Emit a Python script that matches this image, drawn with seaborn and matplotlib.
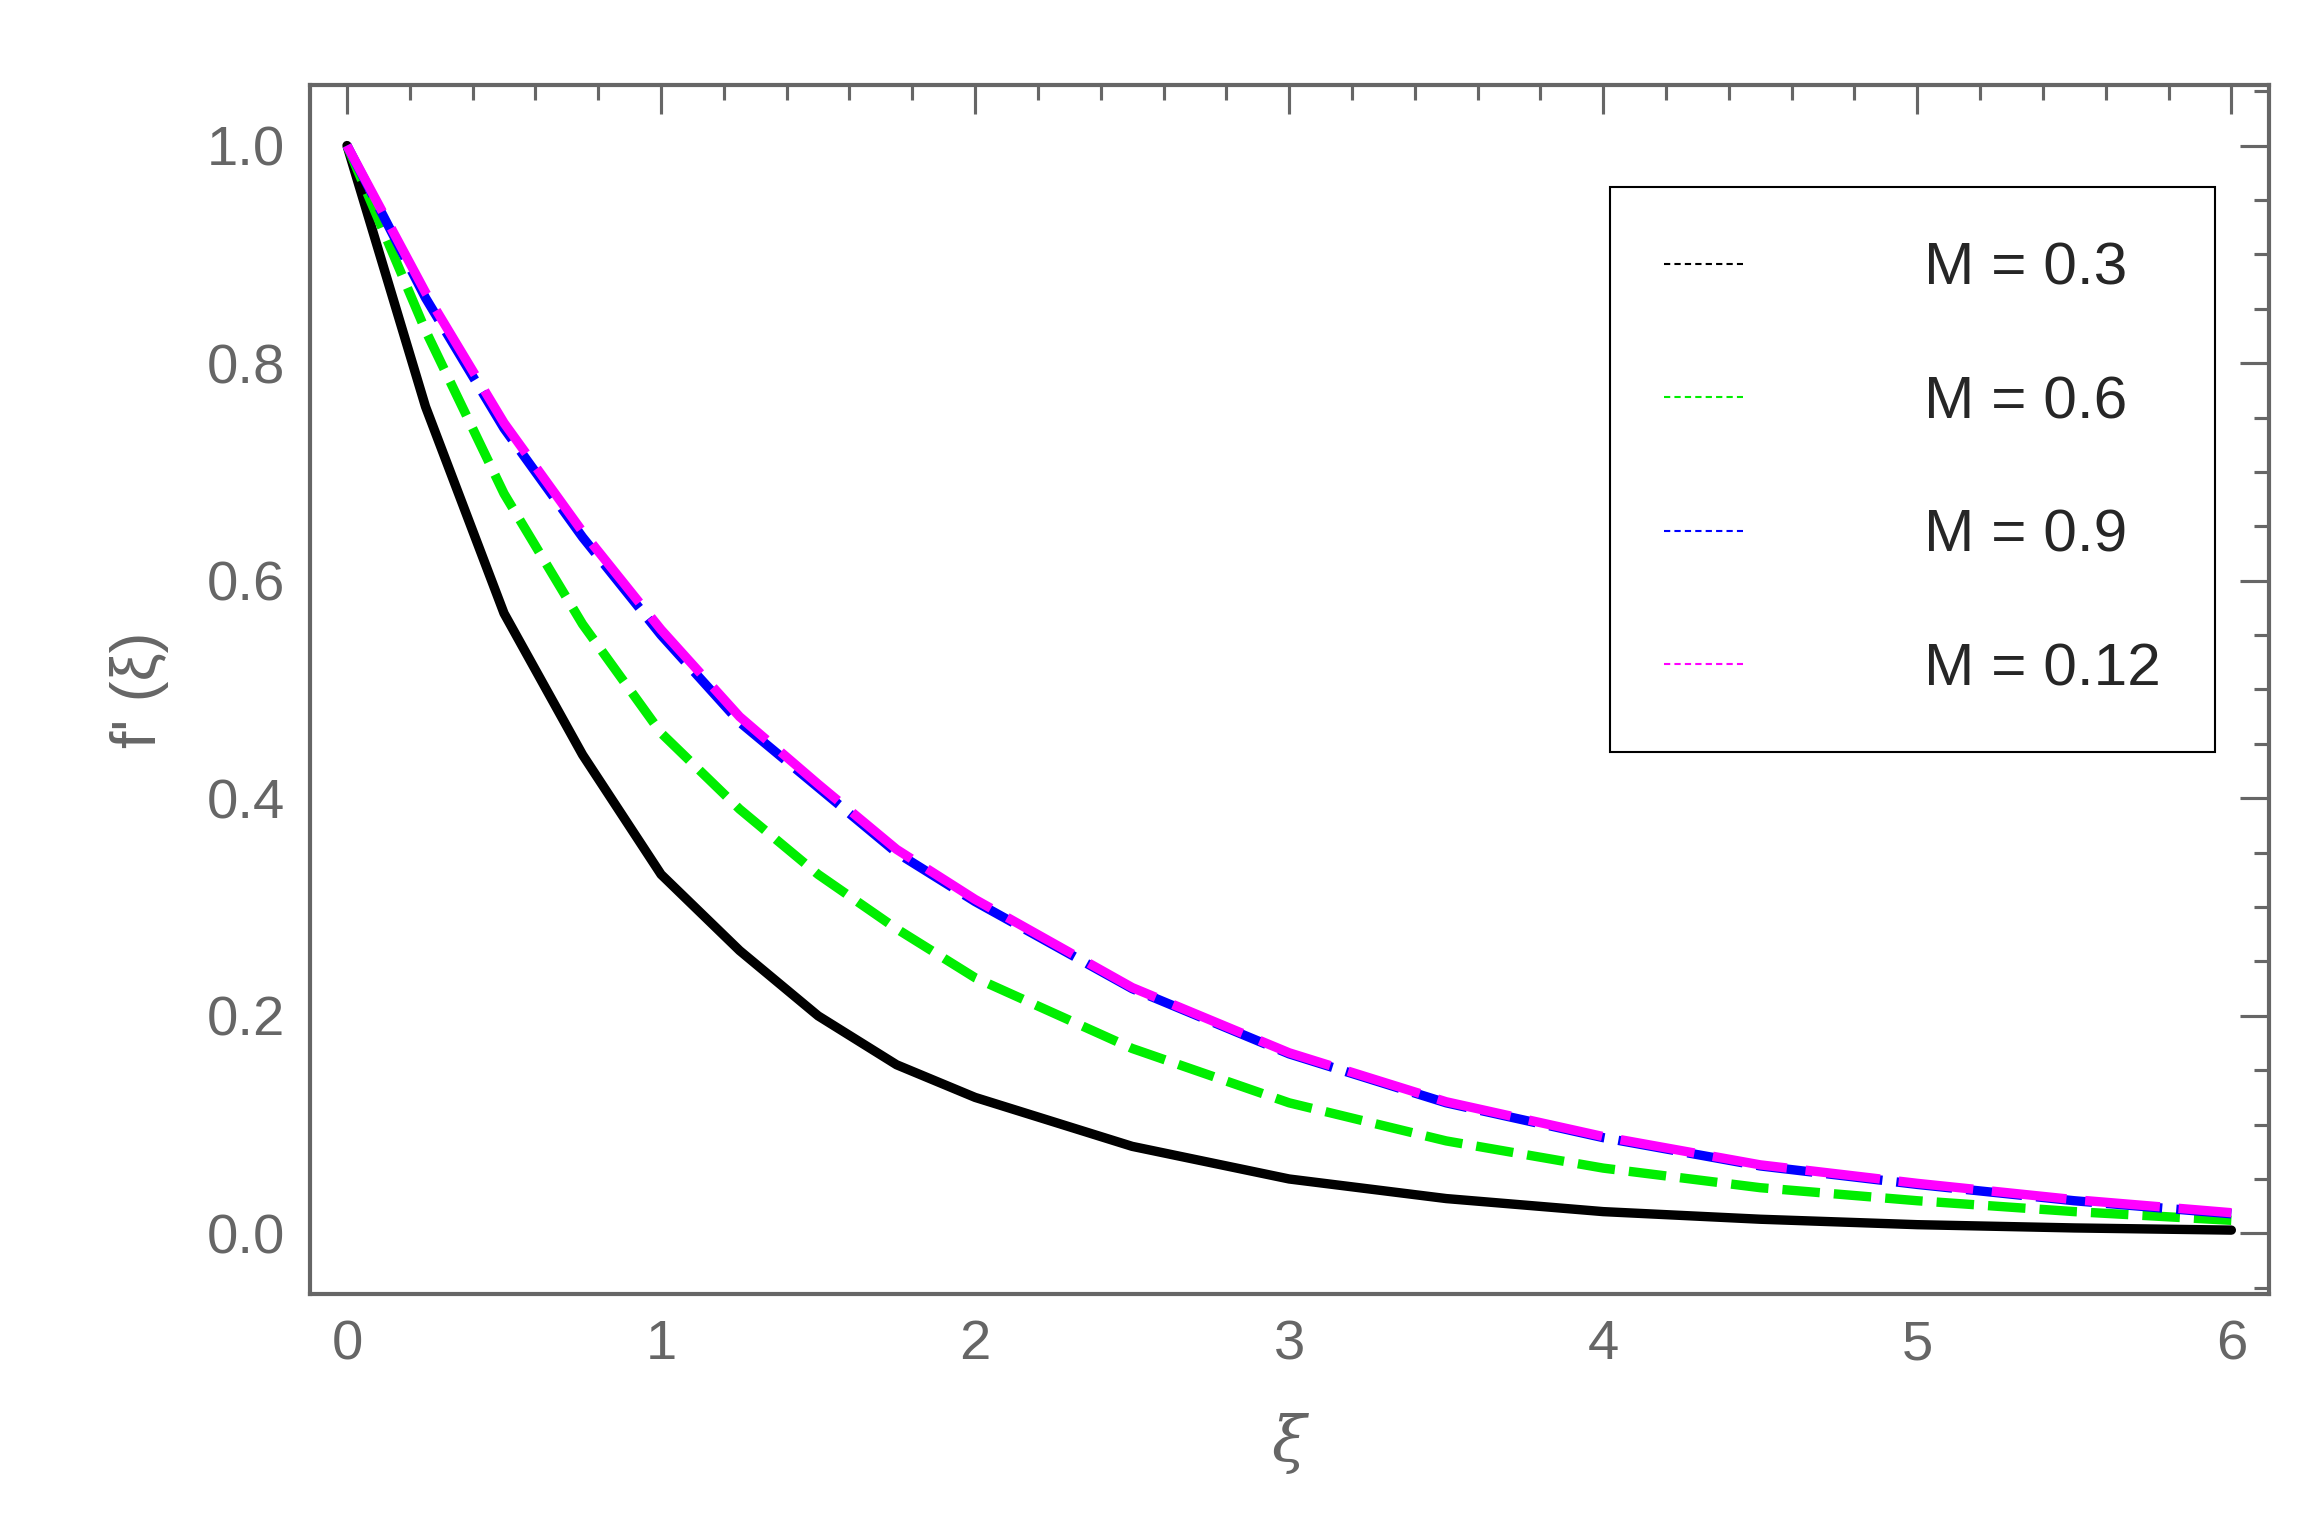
import numpy as np
import pandas as pd
import seaborn as sns
import matplotlib
matplotlib.use("Agg")
import matplotlib.pyplot as plt
from matplotlib.ticker import MultipleLocator
from matplotlib.lines import Line2D

xi = [0, .25, .5, .75, 1, 1.25, 1.5, 1.75, 2, 2.5, 3, 3.5, 4, 4.5, 5, 5.5, 6]
m03 = [1, .76, .57, .44, .33, .26, .20, .155, .125, .08, .05, .032, .02, .013, .008, .005, .003]
m06 = [1, .83, .68, .56, .46, .39, .33, .28, .235, .17, .12, .085, .06, .042, .03, .02, .012]
m09 = [1, .86, .74, .64, .55, .47, .41, .35, .305, .225, .165, .12, .088, .062, .045, .03, .018]
m012 = [1, .865, .745, .645, .555, .475, .413, .353, .307, .226, .166, .121, .089, .063, .046, .031, .019]
labels = ["M = 0.3", "M = 0.6", "M = 0.9", "M = 0.12"]
colors = ["black", "#00ee00", "#0000ff", "#ff00ff"]

sns.set_style("white")
plt.rcParams['font.family'] = ['Liberation Sans', 'DejaVu Sans']
fig = plt.figure(figsize=(15.42, 10.26), dpi=150)
ax = fig.add_axes([0.134, 0.159, 0.847, 0.786])
styles = [dict(ls="-", lw=4.5), dict(ls=(0, (4, 1.5)), lw=4.5),
          dict(ls=(0, (6, 1.5)), lw=4.5), dict(ls=(0, (8, 2)), lw=4.5)]
for ys, lab, c, st in zip([m03, m06, m09, m012], labels, colors, styles):
    sns.lineplot(x=xi, y=ys, ax=ax, color=c, legend=False, **st)

ax.set_xlim(-0.118, 6.12)
ax.set_ylim(-0.056, 1.056)
ax.xaxis.set_major_locator(MultipleLocator(1))
ax.xaxis.set_minor_locator(MultipleLocator(0.2))
ax.yaxis.set_major_locator(MultipleLocator(0.2))
ax.yaxis.set_minor_locator(MultipleLocator(0.05))
ax.yaxis.set_major_formatter(matplotlib.ticker.FormatStrFormatter("%.1f"))
gray = "#666666"
for s in ax.spines.values():
    s.set_color(gray); s.set_linewidth(2)
ax.tick_params(which="both", direction="in", top=True, right=True, color=gray,
               labelcolor=gray, labelsize=27, width=1.5)
ax.tick_params(which="major", length=14, pad=12)
ax.tick_params(which="minor", length=7)
ax.set_xlabel("ξ", fontsize=30, color=gray, style="italic", labelpad=20, family=['DejaVu Serif'])
ax.set_ylabel("f' (ξ)", fontsize=30, color=gray, labelpad=18)

handles = [Line2D([], [], color=c, lw=1, ls=(0, (3, 2))) for c in colors]
leg = ax.legend(handles, labels, loc="upper right", bbox_to_anchor=(0.988, 0.94),
                fontsize=29, frameon=True, fancybox=False, edgecolor="black",
                handlelength=1.3, handletextpad=3.0, labelspacing=1.3,
                borderpad=0.9, framealpha=1)
leg.get_frame().set_linewidth(1)
fig.savefig("out.png", dpi=150)
